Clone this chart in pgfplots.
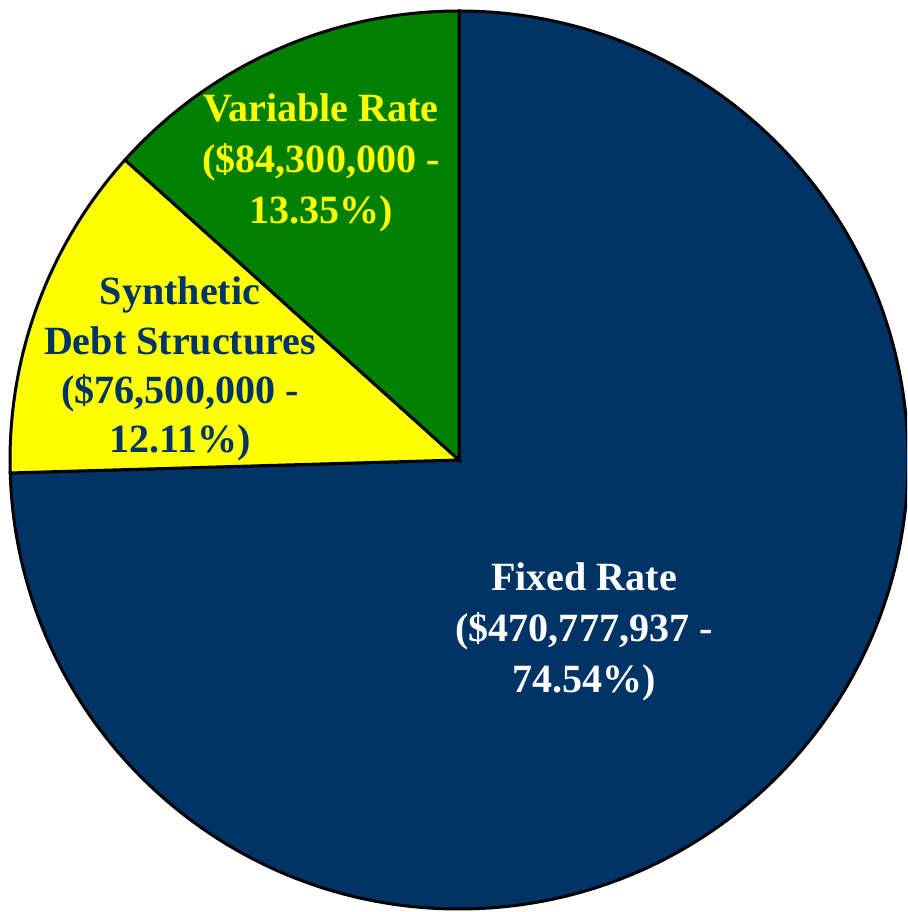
\documentclass[border=0pt]{standalone}
\usepackage{fontspec}
\setmainfont{Liberation Serif}
\usepackage{pgfplots}
\pgfplotsset{compat=1.18}
\definecolor{navy}{RGB}{0,51,102}
\definecolor{pgreen}{RGB}{0,128,0}
\definecolor{pyellow}{RGB}{255,255,0}
\begin{document}
\begin{tikzpicture}
% shares (percent): Fixed Rate, Synthetic Debt Structures, Variable Rate
\pgfmathsetmacro\pA{74.54}
\pgfmathsetmacro\pB{12.11}
\pgfmathsetmacro\pC{13.35}
\pgfmathsetmacro\aStart{90}
\pgfmathsetmacro\aA{90-3.6*\pA}
\pgfmathsetmacro\aB{\aA-3.6*\pB}
\pgfmathsetmacro\aC{\aB-3.6*\pC}
\begin{axis}[
  width=9.07cm, height=9.12cm, scale only axis,
  xmin=0, xmax=907, ymin=0, ymax=912,
  hide axis, clip=true,
]
\addplot[draw=none] coordinates {(0,0) (907,912)};
\filldraw[fill=navy, draw=black, line width=0.85pt]
  (axis cs:459,452) -- ++(\aStart:4.49cm) arc[start angle=\aStart, end angle=\aA, radius=4.49cm] -- cycle;
\filldraw[fill=pyellow, draw=black, line width=0.85pt]
  (axis cs:459,452) -- ++(\aA:4.49cm) arc[start angle=\aA, end angle=\aB, radius=4.49cm] -- cycle;
\filldraw[fill=pgreen, draw=black, line width=0.85pt]
  (axis cs:459,452) -- ++(\aB:4.49cm) arc[start angle=\aB, end angle=\aC, radius=4.49cm] -- cycle;
\node[align=center, text=white, font=\fontsize{11.4}{14.5}\selectfont\bfseries] at (axis cs:584,280)
  {Fixed Rate\\(\$470,777,937 -\\74.54\%)};
\node[align=center, text=pyellow, font=\fontsize{11.4}{14.5}\selectfont\bfseries] at (axis cs:321,749)
  {Variable Rate\\(\$84,300,000 -\\13.35\%)};
\node[align=center, text=navy, font=\fontsize{11.4}{14.0}\selectfont\bfseries] at (axis cs:180,543)
  {Synthetic\\Debt Structures\\(\$76,500,000 -\\12.11\%)};
\end{axis}
\end{tikzpicture}
\end{document}
